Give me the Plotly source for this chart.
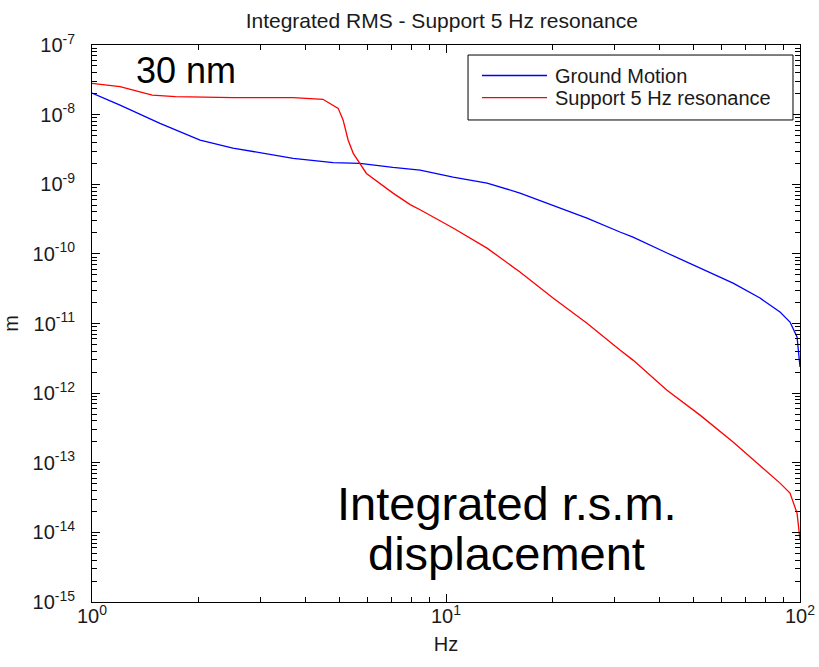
import plotly.graph_objects as go

# ---------------- data ----------------
ground_freq = [1.0, 1.2, 1.556, 2.02, 2.5, 3.0, 3.70, 4.80, 5.71, 7.08, 8.45, 10.47,
               13.06, 16.18, 20.06, 25.02, 31.0, 33.75, 42.1, 52.2, 64.7, 77.1,
               87.8, 93.7, 98.1, 100.0]
ground_rms = [2.04e-8, 1.37e-8, 7.5e-9, 4.31e-9, 3.31e-9, 2.81e-9, 2.36e-9, 2.04e-9,
              2.0e-9, 1.75e-9, 1.60e-9, 1.27e-9, 1.04e-9, 7.48e-10, 5.03e-10,
              3.27e-10, 2.06e-10, 1.74e-10, 1.03e-10, 6.25e-11, 3.8e-11, 2.32e-11,
              1.46e-11, 1.05e-11, 6.4e-12, 2.37e-12]

support_freq = [1.0, 1.2, 1.48, 1.72, 2.5, 3.70, 4.49, 4.96, 5.12, 5.29, 5.47, 5.70,
                5.96, 7.1, 7.92, 8.45, 10.47, 13.06, 16.18, 20.06, 25.02, 31.0,
                33.75, 42.1, 52.2, 64.7, 77.1, 87.8, 93.7, 98.1, 100.0]
support_rms = [2.82e-8, 2.52e-8, 1.91e-8, 1.81e-8, 1.76e-8, 1.75e-8, 1.66e-8,
               1.23e-8, 8.4e-9, 4.33e-9, 2.78e-9, 2.0e-9, 1.43e-9, 7.4e-10,
               5.1e-10, 4.3e-10, 2.35e-10, 1.21e-10, 5.48e-11, 2.32e-11,
               1.01e-11, 4.15e-12, 2.98e-12, 1.1e-12, 4.83e-13, 1.98e-13,
               9.24e-14, 5.1e-14, 3.66e-14, 1.89e-14, 7.8e-15]

series_names = ["Ground Motion", "Support 5 Hz resonance"]
series_colors = ["#0000ff", "#ff0000"]

x_tick_exps = [0, 1, 2]
y_tick_exps = [-15, -14, -13, -12, -11, -10, -9, -8, -7]
x_tick_vals = [10.0 ** e for e in x_tick_exps]
x_tick_text = ["10<sup>%d</sup>" % e for e in x_tick_exps]
y_tick_vals = [10.0 ** e for e in y_tick_exps]
y_tick_text = ["10<sup>%d</sup>" % e for e in y_tick_exps]

FONT = "Liberation Sans, Arial, sans-serif"
TXT = "#1a1a1a"

fig = go.Figure(layout=dict(template="none"))
fig.add_trace(go.Scatter(x=ground_freq, y=ground_rms, mode="lines",
                         name=series_names[0], showlegend=False,
                         line=dict(color=series_colors[0], width=1.3)))
fig.add_trace(go.Scatter(x=support_freq, y=support_rms, mode="lines",
                         name=series_names[1], showlegend=False,
                         line=dict(color=series_colors[1], width=1.3)))
# invisible copy on the overlay (label) axes so that they are rendered
fig.add_trace(go.Scatter(x=ground_freq, y=ground_rms, mode="lines",
                         xaxis="x2", yaxis="y2", showlegend=False, opacity=0,
                         hoverinfo="skip", line=dict(width=0)))

x_range = [min(x_tick_exps), max(x_tick_exps)]
y_range = [min(y_tick_exps), max(y_tick_exps)]

# primary axes: box, major decade ticks and minor ticks (MATLAB style, inward)
tick_axis = dict(
    showline=True, linecolor="black", linewidth=1, mirror="allticks",
    ticks="inside", ticklen=8, tickcolor="black", tickwidth=1,
    tickmode="linear", tick0=0, dtick=1, showticklabels=False,
    minor=dict(dtick="D1", ticks="inside", ticklen=5, tickcolor="black",
               tickwidth=1, showgrid=False),
    showgrid=False, zeroline=False, automargin=False, layer="above traces",
)
fig.update_layout(
    xaxis=dict(type="log", range=x_range, **tick_axis),
    yaxis=dict(type="log", range=y_range, **tick_axis),
    # overlay axes carrying the tick labels and axis titles
    xaxis2=dict(type="log", range=x_range, overlaying="x", anchor="y2", side="bottom",
                tickmode="array", tickvals=x_tick_vals, ticktext=x_tick_text,
                ticks="", showline=False, showgrid=False, zeroline=False,
                automargin=False,
                tickfont=dict(family=FONT, size=20, color=TXT),
                title=dict(text="Hz", font=dict(family=FONT, size=20, color=TXT),
                           standoff=10)),
    yaxis2=dict(type="log", range=y_range, overlaying="y", anchor="x2", side="left",
                tickmode="array", tickvals=y_tick_vals, ticktext=y_tick_text,
                ticks="", showline=False, showgrid=False, zeroline=False,
                automargin=False, ticklabelstandoff=16,
                tickfont=dict(family=FONT, size=20, color=TXT),
                title=dict(text="m", font=dict(family=FONT, size=20, color=TXT),
                           standoff=18)),
)

fig.add_annotation(text="30 nm", xref="paper", yref="paper", x=0.1328, y=0.954,
                   xanchor="center", yanchor="middle", showarrow=False,
                   font=dict(family=FONT, size=36, color="black"))
fig.add_annotation(text="Integrated r.s.m.", xref="paper", yref="paper", x=0.586, y=0.177,
                   xanchor="center", yanchor="middle", showarrow=False,
                   font=dict(family=FONT, size=47, color="black"))
fig.add_annotation(text="displacement", xref="paper", yref="paper", x=0.586, y=0.087,
                   xanchor="center", yanchor="middle", showarrow=False,
                   font=dict(family=FONT, size=47, color="black"))

# legend box drawn in paper coordinates (MATLAB-style legend)
leg_x0, leg_x1, leg_y0, leg_y1 = 0.5311, 0.9901, 0.8654, 0.9820
leg_line_x0, leg_line_x1, leg_text_x = 0.5508, 0.6427, 0.6511
leg_rows = [0.9452, 0.9057]
fig.add_shape(type="rect", xref="paper", yref="paper",
              x0=leg_x0, x1=leg_x1, y0=leg_y0, y1=leg_y1,
              line=dict(color="black", width=1), fillcolor="white", layer="above")
for name, color, ry in zip(series_names, series_colors, leg_rows):
    fig.add_shape(type="line", xref="paper", yref="paper",
                  x0=leg_line_x0, x1=leg_line_x1, y0=ry, y1=ry,
                  line=dict(color=color, width=1.3), layer="above")
    fig.add_annotation(text=name, xref="paper", yref="paper", x=leg_text_x, y=ry,
                       xanchor="left", yanchor="middle", showarrow=False,
                       font=dict(family=FONT, size=20, color=TXT))

fig.update_layout(
    width=819, height=667,
    margin=dict(l=92, r=19, t=45, b=65),
    paper_bgcolor="white", plot_bgcolor="white",
    title=dict(text="Integrated RMS - Support 5 Hz resonance",
               font=dict(family=FONT, size=21, color=TXT),
               x=0.494, xref="paper", xanchor="center",
               y=1 - 20.5 / 667, yref="container", yanchor="middle"),
    showlegend=False,
    font=dict(family=FONT),
)

fig.write_html("out.html", config={"displayModeBar": False},
               post_script="document.body.style.margin='0';document.body.style.padding='0';")
